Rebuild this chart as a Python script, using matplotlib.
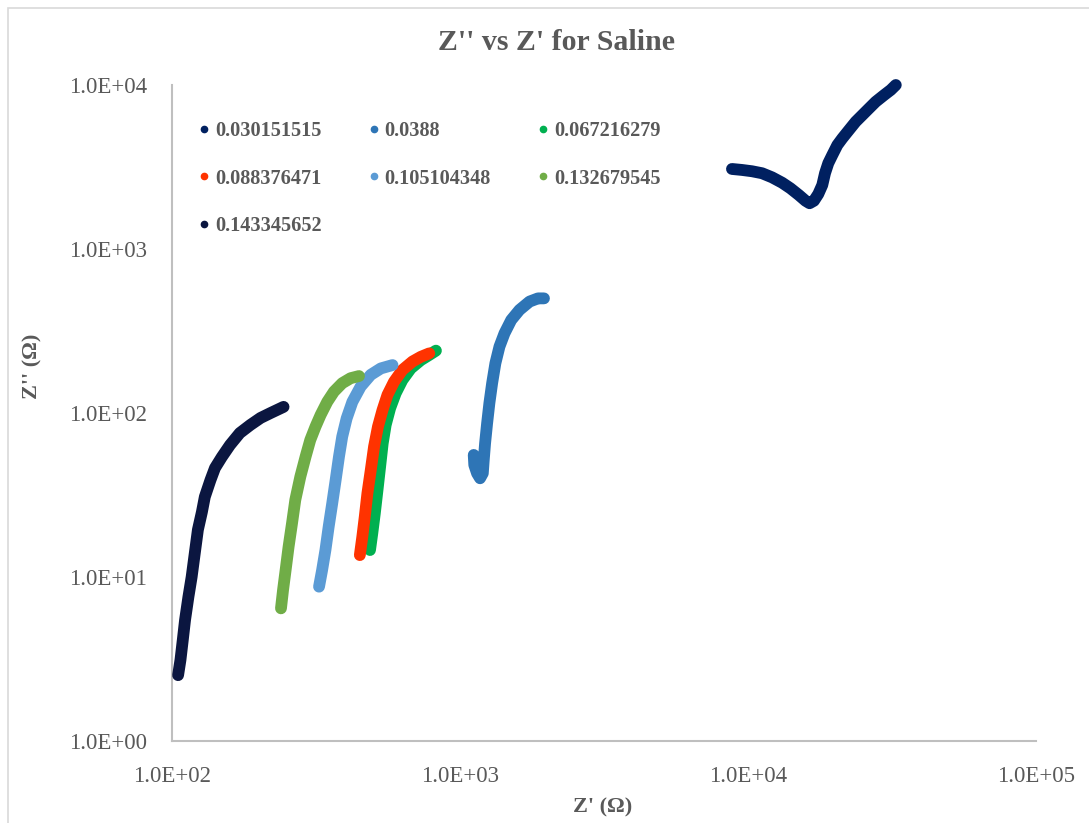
import matplotlib
matplotlib.use("Agg")
import matplotlib.pyplot as plt
from matplotlib.patches import Rectangle

plt.rcParams['font.family'] = ['Liberation Serif', 'DejaVu Serif']

labels = ["0.030151515", "0.0388", "0.067216279", "0.088376471",
          "0.105104348", "0.132679545", "0.143345652"]
colors = ["#002060", "#2E75B6", "#00B050", "#FF3300",
          "#5B9BD5", "#70AD47", "#0B1640"]

# Z' (ohm) and Z'' (ohm) for each concentration
x1 = [8796, 9530, 10325, 11190, 12120, 13140, 14040, 15020, 15840, 16360, 16940, 17540, 18110,
      18510, 19000, 19620, 20430, 21260, 22430, 23650, 24960, 26340, 27770, 29710, 31320, 32600]
y1 = [3076, 3034, 2979, 2897, 2735, 2535, 2344, 2133, 1968, 1901, 1968, 2163, 2455,
      2897, 3334, 3741, 4305, 4732, 5321, 5970, 6561, 7211, 7907, 8690, 9333, 10000]

x2 = [1116, 1121, 1146, 1174, 1200, 1209, 1222, 1242, 1265, 1293, 1327, 1371, 1427, 1506, 1609, 1744, 1866, 1957]
y2 = [55.5, 48.2, 42.9, 40.0, 42.9, 51.6, 65.3, 86.5, 115, 152, 201, 254, 306, 369, 425, 478, 500, 500]

x3 = [487, 496, 506, 517, 528, 539, 552, 572, 598, 631, 675, 731, 782, 825]
y3 = [14.6, 18.5, 24.4, 33.9, 47.1, 65.3, 84.5, 107, 132, 159, 187, 210, 226, 240]

x4 = [449, 458, 467, 477, 490, 503, 519, 538, 560, 590, 631, 684, 731, 782]
y4 = [13.6, 17.6, 23.3, 32.4, 44.9, 62.4, 82.6, 104, 129, 155, 183, 206, 220, 231]

x5 = [324, 332, 341, 350, 360, 370, 380, 390, 404, 423, 452, 490, 531, 583]
y5 = [8.73, 11.0, 14.6, 20.3, 28.1, 39.0, 54.2, 71.8, 92.7, 117, 145, 171, 187, 196]

x6 = [239, 243, 248, 254, 261, 268, 279, 291, 302, 315, 328, 346, 365, 390, 417, 446]
y6 = [6.44, 8.34, 11.0, 15.3, 21.2, 29.5, 40.9, 54.2, 68.4, 82.6, 97.2, 117, 135, 152, 163, 168]

x7 = [105, 107, 109, 111, 114, 117, 120, 123, 127, 130, 136, 141, 149, 159, 172, 187, 203, 220, 244]
y7 = [2.52, 3.12, 4.13, 5.47, 7.55, 10.0, 14.0, 19.4, 24.9, 30.8, 39.0, 46.2, 54.0, 63.8, 75.5, 84.5, 93.3, 100, 109]

xs = [x1, x2, x3, x4, x5, x6, x7]
ys = [y1, y2, y3, y4, y5, y6, y7]

x_ticks = [1e2, 1e3, 1e4, 1e5]
y_ticks = [1e0, 1e1, 1e2, 1e3, 1e4]
x_tick_labels = ["1.0E+02", "1.0E+03", "1.0E+04", "1.0E+05"]
y_tick_labels = ["1.0E+00", "1.0E+01", "1.0E+02", "1.0E+03", "1.0E+04"]

W, H = 1089, 823
fig = plt.figure(figsize=(W / 100, H / 100), dpi=100)
fig.patch.set_facecolor("white")
fig.add_artist(Rectangle((8 / W, -0.01), 1.02, 1 - 8 / H + 0.01, transform=fig.transFigure,
                         fill=False, edgecolor="#D9D9D9", linewidth=1.2))

ax = fig.add_axes([172 / W, 1 - 741 / H, (1036 - 172) / W, (741 - 85) / H])
ax.set_xscale("log")
ax.set_yscale("log")
ax.set_xlim(1e2, 1e5)
ax.set_ylim(1e0, 1e4)

handles = []
for x, y, c, lab in zip(xs, ys, colors, labels):
    ax.plot(x, y, color=c, linewidth=8.5, solid_capstyle="round",
            solid_joinstyle="round", zorder=3, clip_on=False)
    h, = ax.plot([], [], linestyle="none", marker="o", markersize=4.5,
                 color=c, label=lab)
    handles.append(h)

ax.set_xticks(x_ticks)
ax.set_xticklabels(x_tick_labels)
ax.set_yticks(y_ticks)
ax.set_yticklabels(y_tick_labels)
ax.minorticks_off()
ax.tick_params(axis="both", length=0, labelsize=16.5, labelcolor="#595959")
ax.tick_params(axis="x", pad=18)
ax.tick_params(axis="y", pad=18)

for s in ["top", "right"]:
    ax.spines[s].set_visible(False)
for s in ["left", "bottom"]:
    ax.spines[s].set_color("#BFBFBF")
    ax.spines[s].set_linewidth(1.5)

# row-major legend order (3 columns)
order = [0, 3, 6, 1, 4, 2, 5]
leg = ax.legend(handles=[handles[i] for i in order], ncol=3, loc="upper left",
                bbox_to_anchor=(199 / W, 1 - 121 / H), bbox_transform=fig.transFigure,
                frameon=False, borderpad=0, borderaxespad=0,
                prop={"weight": "bold", "size": 14.6},
                handlelength=0.5, handletextpad=0.3,
                columnspacing=2.3, labelspacing=1.36)
for t in leg.get_texts():
    t.set_color("#595959")

fig.text(556 / W, 1 - 42 / H, "Z'' vs Z' for Saline", ha="center", va="center",
         fontsize=21.5, fontweight="bold", color="#595959")
fig.text(603 / W, 1 - 807 / H, "Z' (\u03a9)", ha="center", va="center",
         fontsize=16, fontweight="bold", color="#595959")
fig.text(32 / W, 1 - 366 / H, "Z'' (\u03a9)", ha="center", va="center",
         rotation=90, fontsize=16, fontweight="bold", color="#595959")

fig.savefig("out.png", dpi=100, facecolor="white")
